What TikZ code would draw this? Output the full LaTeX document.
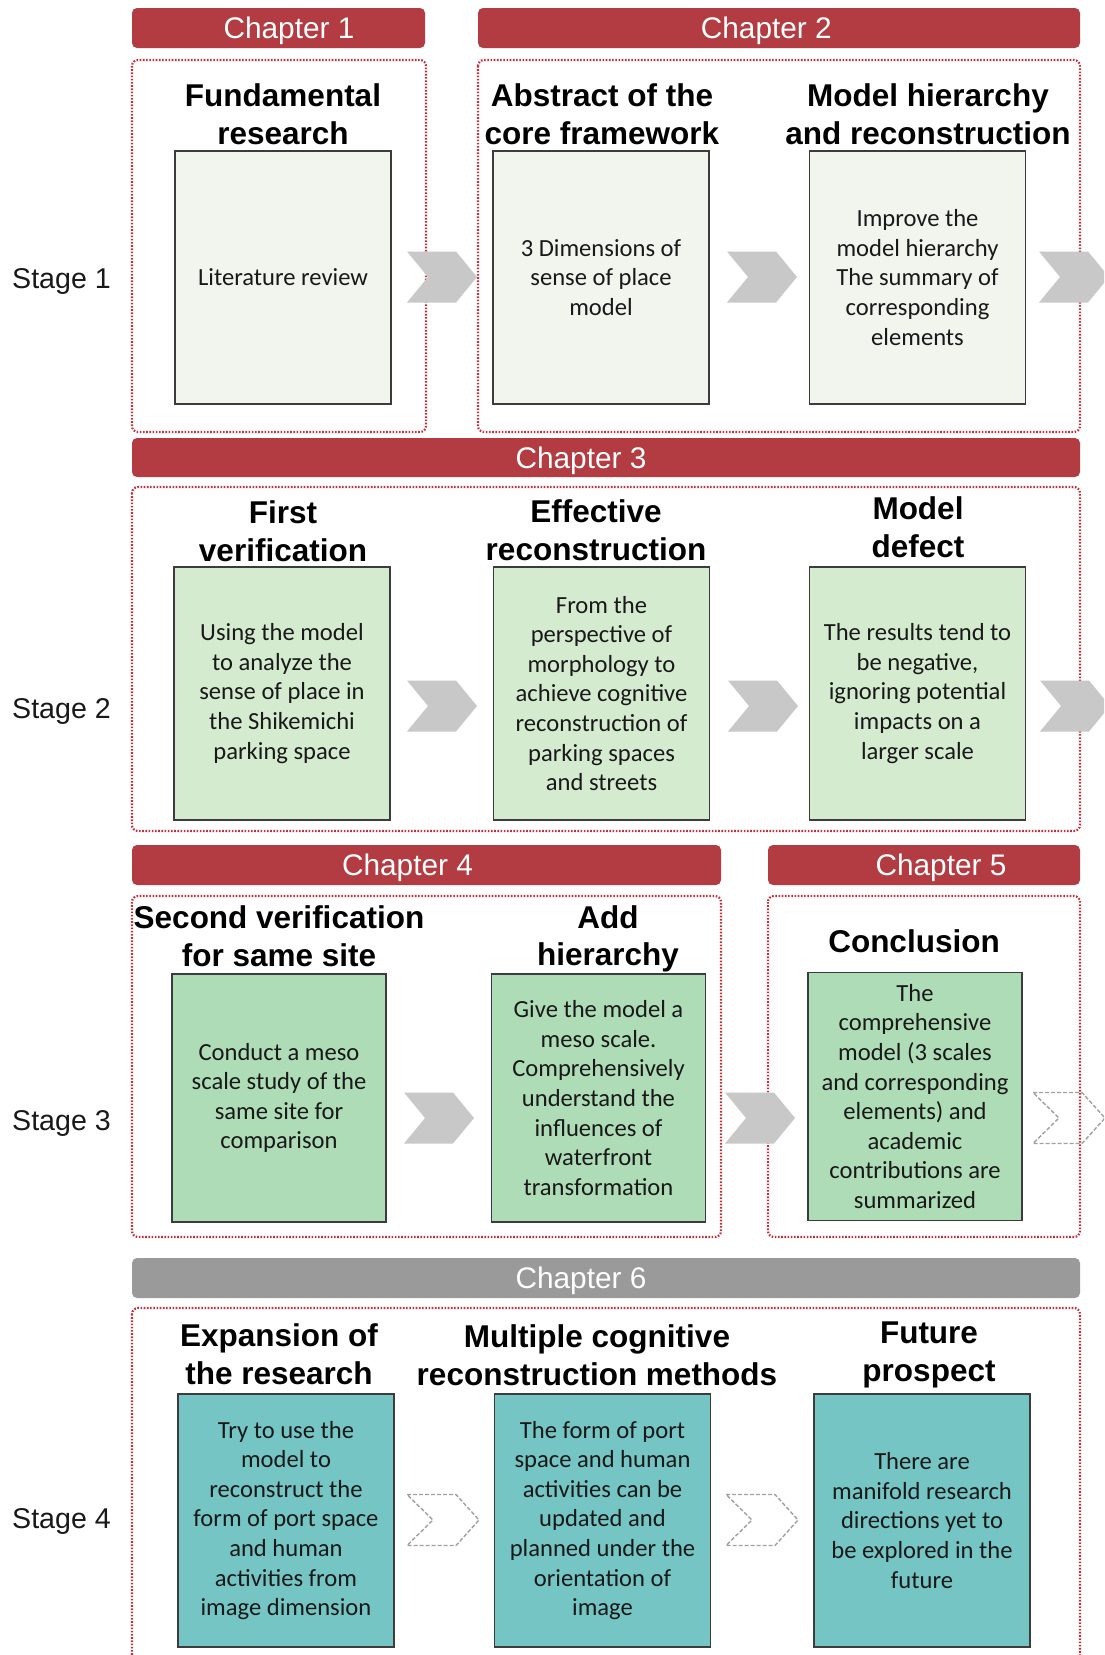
\documentclass[tikz,border=0pt]{standalone}
\usepackage{fontspec}
\setmainfont{Liberation Sans}
\newfontfamily\boxfont{Carlito}
\definecolor{chapred}{HTML}{B23C42}
\definecolor{chapgrey}{HTML}{9A9A9A}
\definecolor{dotred}{HTML}{C42E3A}
\definecolor{fillA}{HTML}{F2F4EE}
\definecolor{fillB}{HTML}{D5EBD0}
\definecolor{fillC}{HTML}{AEDCB6}
\definecolor{fillD}{HTML}{74C5C3}
\definecolor{chevgrey}{HTML}{C8C8C8}
\definecolor{chevline}{HTML}{A0A0A0}
\definecolor{edgegrey}{HTML}{3C3C3C}
\tikzset{
  chapbar/.style={fill=#1, rounded corners=5pt, inner sep=0pt, minimum height=40pt},
  chaptext/.style={text=white, inner sep=0pt, font=\fontsize{29.8}{34}\selectfont},
  groupframe/.style={draw=dotred, line width=2.2pt, dash pattern=on 1.6pt off 1.6pt,
    rounded corners=6pt},
  stepbox/.style={draw=edgegrey, line width=1.6pt, fill=#1, minimum width=216pt,
    minimum height=253pt, align=center, inner sep=0pt, text=black!90,
    font=\boxfont\fontsize{24.6}{29.6}\selectfont},
  heading/.style={align=center, inner sep=0pt, text=black,
    font=\bfseries\fontsize{31.5}{37.5}\selectfont},
  stagelabel/.style={inner sep=0pt, anchor=west, text=black!90,
    font=\fontsize{28.6}{32}\selectfont},
  chev/.pic={\fill[chevgrey] (-35,-25.5) -- (14,-25.5) -- (35,0) -- (14,25.5)
    -- (-35,25.5) -- (-14,0) -- cycle;},
  chevopen/.pic={\draw[chevline, line width=1.4pt, dash pattern=on 4pt off 2pt]
    (-36,-25.5) -- (13,-25.5) -- (36,0) -- (13,25.5)
    -- (-36,25.5) -- (-10,0) -- cycle;},
}
\begin{document}
\begin{tikzpicture}[x=1pt, y=-1pt]
\useasboundingbox[fill=white] (0,0) rectangle (1104,1655);
\clip (0,0) rectangle (1104,1655);

% stage labels
\node[stagelabel] (s1) at (12,281) {Stage 1};
\node[stagelabel] (s2) at (12,711) {Stage 2};
\node[stagelabel] (s3) at (12,1123) {Stage 3};
\node[stagelabel] (s4) at (12,1521) {Stage 4};

% chapter bars and their titles
\node[chapbar=chapred, minimum width=293pt] (ch1) at (278.5,28) {};
\node[chaptext] (t1) at ([xshift=10.5pt, yshift=-2.5pt]ch1.center) {Chapter 1};
\node[chapbar=chapred, minimum width=602pt] (ch2) at (779,28) {};
\node[chaptext] (t2) at ([xshift=-12.7pt, yshift=-2.5pt]ch2.center) {Chapter 2};
\node[chapbar=chapred, minimum width=948pt, minimum height=39pt] (ch3) at (606,457.5) {};
\node[chaptext] (t3) at ([xshift=-25pt, yshift=-3pt]ch3.center) {Chapter 3};
\node[chapbar=chapred, minimum width=589pt] (ch4) at (426.5,865) {};
\node[chaptext] (t4) at ([xshift=-19pt, yshift=-2.5pt]ch4.center) {Chapter 4};
\node[chapbar=chapred, minimum width=312pt] (ch5) at (924,865) {};
\node[chaptext] (t5) at ([xshift=17pt, yshift=-2.5pt]ch5.center) {Chapter 5};
\node[chapbar=chapgrey, minimum width=948pt] (ch6) at (606,1278) {};
\node[chaptext] (t6) at ([xshift=-25pt, yshift=-2.5pt]ch6.center) {Chapter 6};

% dotted group frames
\draw[groupframe] (132,60) rectangle (426,432);
\draw[groupframe] (478,60) rectangle (1080,432);
\draw[groupframe] (132,487) rectangle (1080,831);
\draw[groupframe] (132,896) rectangle (721,1237);
\draw[groupframe] (768,896) rectangle (1080,1237);
\draw[groupframe] (132,1308) rectangle (1080,1700);

% stage 1
\node[heading] (h11) at (283,114) {Fundamental\\research};
\node[heading] (h12) at (602,114) {Abstract of the\\core framework};
\node[heading] (h13) at (928,114) {Model hierarchy\\and reconstruction};
\node[stepbox=fillA] (b11) at (283,277.5) {Literature review};
\node[stepbox=fillA] (b12) at (601,277.5) {3 Dimensions of\\sense of place\\model};
\node[stepbox=fillA] (b13) at (917.5,277.5) {Improve the\\model hierarchy\\The summary of\\corresponding\\elements};
\pic (a11) at (442,277) {chev};
\pic (a12) at (762,277) {chev};
\pic (a13) at (1074,277) {chev};

% stage 2
\node[heading] (h21) at (283,531) {First\\verification};
\node[heading] (h22) at (596,530) {Effective\\reconstruction};
\node[heading] (h23) at (918,527) {Model\\defect};
\node[stepbox=fillB] (b21) at (282,693.5) {Using the model\\to analyze the\\sense of place in\\the Shikemichi\\parking space};
\node[stepbox=fillB] (b22) at (601.5,693.5) {From the\\perspective of\\morphology to\\achieve cognitive\\reconstruction of\\parking spaces\\and streets};
\node[stepbox=fillB] (b23) at (917.5,693.5) {The results tend to\\be negative,\\ignoring potential\\impacts on a\\larger scale};
\pic (a21) at (442,706) {chev};
\pic (a22) at (763,706) {chev};
\pic (a23) at (1075,706) {chev};

% stage 3
\node[heading] (h31) at (279,936) {Second verification\\for same site};
\node[heading] (h32) at (608,939) {Add\\hierarchy};
\node[heading] (h33) at (914,941) {Conclusion};
\node[stepbox=fillC, minimum width=214pt, minimum height=248pt] (b31) at (279,1098) {Conduct a meso\\scale study of the\\same site for\\comparison};
\node[stepbox=fillC, minimum width=214pt, minimum height=248pt] (b32) at (598.5,1098) {Give the model a\\meso scale.\\Comprehensively\\understand the\\influences of\\waterfront\\transformation};
\node[stepbox=fillC, minimum width=214pt, minimum height=248pt] (b33) at (915,1096.5) {The\\comprehensive\\model (3 scales\\and corresponding\\elements) and\\academic\\contributions are\\summarized};
\pic (a31) at (439,1118) {chev};
\pic (a32) at (760,1118) {chev};
\pic (a33) at (1069,1118) {chevopen};

% stage 4
\node[heading] (h41) at (279,1354) {Expansion of\\the research};
\node[heading] (h42) at (597,1355) {Multiple cognitive\\reconstruction methods};
\node[heading] (h43) at (929,1355) {Future\\prospect};
\node[stepbox=fillD] (b41) at (286,1520.5) {Try to use the\\model to\\reconstruct the\\form of port space\\and human\\activities from\\image dimension};
\node[stepbox=fillD] (b42) at (602.5,1520.5) {The form of port\\space and human\\activities can be\\updated and\\planned under the\\orientation of\\image};
\node[stepbox=fillD] (b43) at (922,1520.5) {There are\\manifold research\\directions yet to\\be explored in the\\future};
\pic (a41) at (443,1520) {chevopen};
\pic (a42) at (762,1520) {chevopen};
\end{tikzpicture}
\end{document}
